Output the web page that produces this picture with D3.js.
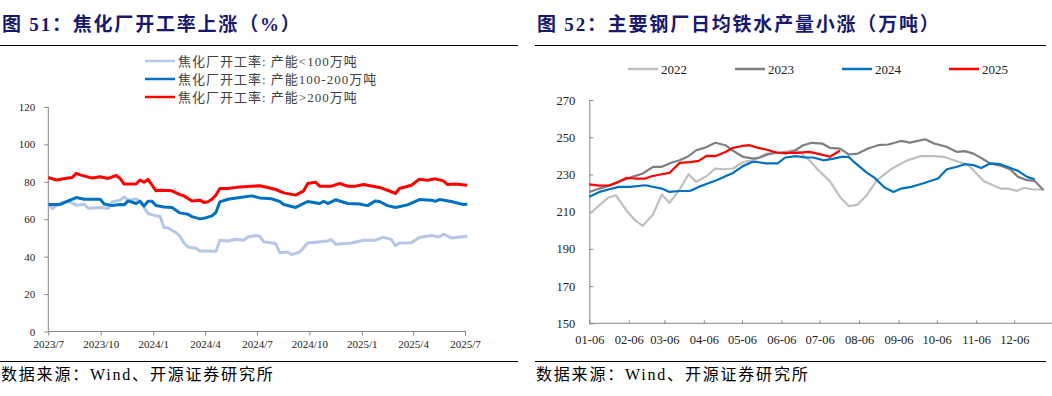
<!DOCTYPE html>
<html>
<head>
<meta charset="utf-8">
<script src="https://cdn.jsdelivr.net/npm/d3@7"></script>
<style>
  body { margin: 0; background: #fff; }
  svg { display: block; }
  .title { font-family: 'Liberation Serif', 'Noto Sans CJK SC', serif; font-weight: bold; font-size: 19px; fill: #18196e; letter-spacing: 1.8px; }
  .source { font-family: 'Liberation Serif', 'Noto Sans CJK SC', serif; font-size: 16px; fill: #000; letter-spacing: 1.8px; }
  .legend { font-family: 'Liberation Serif', 'Noto Sans CJK SC', serif; font-size: 13px; fill: #404040; }
  .axis text { font-family: 'Liberation Serif', serif; fill: #222; }
  .axis path, .axis line { stroke: #868686; }
</style>
</head>
<body>
<script>
// 图51 焦化厂开工率 (%), weekly
const cokeSeries = ['焦化厂开工率: 产能<100万吨', '焦化厂开工率: 产能100-200万吨', '焦化厂开工率: 产能>200万吨']
const cokeColors = ['#b4c7e7', '#0070c0', '#ff0000']
const cokeTicks = ['2023-07-01', '2023-10-01', '2024-01-01', '2024-04-01', '2024-07-01', '2024-10-01', '2025-01-01', '2025-04-01', '2025-07-01']

const cokeSmall = [
  ['2023-07-01', 68.8], ['2023-07-08', 65.7], ['2023-07-22', 68.4], ['2023-08-05', 69.6], ['2023-08-19', 67.5],
  ['2023-09-02', 68], ['2023-09-09', 65.9], ['2023-09-30', 66.3], ['2023-10-14', 65.7], ['2023-10-21', 69.3],
  ['2023-11-04', 70.2], ['2023-11-11', 72], ['2023-11-18', 70.2], ['2023-12-02', 70.9], ['2023-12-09', 69.6],
  ['2023-12-16', 66.3], ['2023-12-23', 63], ['2024-01-06', 61.8], ['2024-01-13', 61.6], ['2024-01-20', 55.4],
  ['2024-01-27', 55.4], ['2024-02-10', 52.9], ['2024-02-17', 50.9], ['2024-02-24', 47.3], ['2024-03-02', 45.2],
  ['2024-03-16', 44.5], ['2024-03-23', 43], ['2024-04-06', 43], ['2024-04-20', 42.9], ['2024-04-27', 48.8],
  ['2024-05-11', 48.4], ['2024-05-25', 49.3], ['2024-06-08', 48.8], ['2024-06-15', 50.5], ['2024-06-29', 51.3],
  ['2024-07-06', 50.9], ['2024-07-13', 47.9], ['2024-08-03', 47], ['2024-08-10', 42.1], ['2024-08-24', 42.5],
  ['2024-08-31', 41.1], ['2024-09-14', 42.5], ['2024-09-28', 47.3], ['2024-10-12', 47.7], ['2024-11-02', 48.4],
  ['2024-11-09', 49.1], ['2024-11-16', 46.6], ['2024-12-14', 47.3], ['2025-01-04', 48.8], ['2025-01-25', 48.8],
  ['2025-02-08', 50.4], ['2025-02-22', 49.1], ['2025-03-01', 45.9], ['2025-03-08', 47.3], ['2025-03-29', 47.5],
  ['2025-04-12', 50.2], ['2025-05-03', 51.3], ['2025-05-17', 50.5], ['2025-05-24', 52], ['2025-06-07', 50],
  ['2025-07-05', 50.9],
]
const cokeMid = [
  ['2023-07-01', 67.9], ['2023-07-22', 67.9], ['2023-08-05', 69.8], ['2023-08-19', 71.6], ['2023-09-02', 70.7],
  ['2023-09-30', 70.7], ['2023-10-07', 68.2], ['2023-10-21', 67.3], ['2023-11-04', 67.9], ['2023-11-11', 67.7],
  ['2023-11-18', 69.8], ['2023-12-02', 68.4], ['2023-12-09', 69.6], ['2023-12-16', 67], ['2023-12-23', 69.6],
  ['2023-12-30', 69.6], ['2024-01-06', 67.3], ['2024-01-20', 66.6], ['2024-02-03', 66.3], ['2024-02-17', 63.4],
  ['2024-03-02', 62.7], ['2024-03-09', 61.4], ['2024-03-23', 60.2], ['2024-03-30', 60.5], ['2024-04-13', 61.8],
  ['2024-04-20', 63.6], ['2024-04-27', 69.3], ['2024-05-11', 70.7], ['2024-06-01', 71.6], ['2024-06-22', 72.5],
  ['2024-07-06', 71.4], ['2024-07-27', 70.9], ['2024-08-10', 69.5], ['2024-08-17', 67.9], ['2024-09-07', 66.3],
  ['2024-09-28', 69.5], ['2024-10-19', 68.4], ['2024-10-26', 69.6], ['2024-11-02', 68.4], ['2024-11-16', 70.4],
  ['2024-12-07', 68.4], ['2024-12-28', 68.2], ['2025-01-11', 67.3], ['2025-01-25', 69.8], ['2025-02-01', 69.5],
  ['2025-02-15', 67.3], ['2025-03-01', 66.3], ['2025-03-22', 67.7], ['2025-04-12', 70.5], ['2025-05-03', 70.2],
  ['2025-05-10', 69.6], ['2025-05-17', 70.5], ['2025-06-07', 69.5], ['2025-06-28', 67.9], ['2025-07-05', 68],
]
const cokeLarge = [
  ['2023-07-01', 82.3], ['2023-07-15', 81], ['2023-08-05', 82], ['2023-08-12', 82.3], ['2023-08-19', 84.5],
  ['2023-08-26', 83.7], ['2023-09-16', 82], ['2023-09-30', 82.7], ['2023-10-14', 81.8], ['2023-10-28', 83.4],
  ['2023-11-04', 81.8], ['2023-11-11', 78.8], ['2023-12-02', 78.8], ['2023-12-09', 81], ['2023-12-16', 79.8],
  ['2023-12-23', 81.3], ['2024-01-06', 75.2], ['2024-01-13', 75.5], ['2024-02-03', 75.2], ['2024-02-17', 73.2],
  ['2024-02-24', 72.5], ['2024-03-09', 69.8], ['2024-03-23', 70.2], ['2024-03-30', 69], ['2024-04-06', 69.3],
  ['2024-04-13', 70.7], ['2024-04-20', 72.9], ['2024-04-27', 76.4], ['2024-05-11', 76.4], ['2024-06-01', 77.3],
  ['2024-06-22', 77.7], ['2024-07-06', 77.9], ['2024-07-20', 77], ['2024-08-03', 75.9], ['2024-08-17', 74.1],
  ['2024-09-07', 72.9], ['2024-09-21', 75.2], ['2024-09-28', 79.1], ['2024-10-12', 79.8], ['2024-10-19', 77.7],
  ['2024-11-09', 77.7], ['2024-11-23', 79.1], ['2024-12-07', 77.7], ['2024-12-21', 77.7], ['2025-01-04', 78.6],
  ['2025-02-01', 77], ['2025-02-15', 75.5], ['2025-03-01', 73.8], ['2025-03-08', 76.4], ['2025-03-29', 78.2],
  ['2025-04-12', 81.4], ['2025-04-26', 80.9], ['2025-05-10', 81.6], ['2025-05-24', 80.5], ['2025-05-31', 78.6],
  ['2025-06-14', 78.8], ['2025-07-05', 78.2],
]

// 图52 主要钢厂日均铁水产量 (万吨), by day of year
const ironYears = ['2022', '2023', '2024', '2025']
const ironColors = ['#bfbfbf', '#7f7f7f', '#0070c0', '#ff0000']
const ironTicks = ['01-06', '02-06', '03-06', '04-06', '05-06', '06-06', '07-06', '08-06', '09-06', '10-06', '11-06', '12-06']

const iron2022 = [
  ['01-06', 208.6], ['01-13', 212.9], ['01-21', 217.6], ['01-27', 218.8], ['02-04', 210.8], ['02-11', 205.4],
  ['02-17', 202.4], ['02-25', 208.4], ['03-04', 219.2], ['03-10', 214.7], ['03-18', 221.9], ['03-25', 230.1],
  ['03-31', 226], ['04-08', 229], ['04-15', 233.2], ['04-21', 232.8], ['04-29', 233.2], ['05-07', 236.7],
  ['05-15', 237.6], ['05-25', 241.2], ['06-04', 241.6], ['06-15', 243], ['06-20', 242.1], ['06-28', 237.6],
  ['07-05', 232.3], ['07-14', 226.4], ['07-22', 217.9], ['07-29', 212.9], ['08-05', 213.8], ['08-12', 218.8],
  ['08-20', 226.9], ['09-01', 233.2], ['09-12', 237.3], ['09-23', 239.8], ['10-03', 239.8], ['10-12', 239.4],
  ['10-22', 237.1], ['10-31', 235], ['11-05', 231.4], ['11-12', 226.4], ['11-18', 224.6], ['11-25', 222.4],
  ['12-01', 222.4], ['12-08', 221.2], ['12-14', 222.8], ['12-21', 221.9], ['12-29', 221.9],
]
const iron2023 = [
  ['01-06', 220.6], ['01-14', 222.4], ['01-22', 223.9], ['01-30', 226.4], ['02-09', 228.7], ['02-17', 230.5],
  ['02-25', 234.1], ['03-04', 234.1], ['03-12', 236.4], ['03-18', 237.6], ['03-25', 239.8], ['03-31', 243],
  ['04-07', 244.4], ['04-15', 247], ['04-23', 245.7], ['04-29', 242.7], ['05-07', 239.4], ['05-15', 238.5],
  ['05-20', 239.1], ['05-27', 240.9], ['06-02', 241.8], ['06-10', 241.2], ['06-17', 243], ['06-23', 245.7],
  ['06-30', 247], ['07-08', 246.6], ['07-14', 244.3], ['07-22', 243.9], ['07-29', 240.7], ['08-05', 241.2],
  ['08-13', 243.9], ['08-21', 245.7], ['08-29', 246.1], ['09-08', 248], ['09-15', 247.1], ['09-27', 248.9],
  ['10-04', 246.6], ['10-14', 244.8], ['10-22', 242.1], ['10-28', 242.5], ['11-04', 241.2], ['11-12', 238],
  ['11-17', 235.9], ['11-26', 234.6], ['12-03', 232.6], ['12-09', 228.7], ['12-16', 226.9], ['12-22', 226.5],
  ['12-29', 221.5],
]
const iron2024 = [
  ['01-06', 218], ['01-14', 220.6], ['01-21', 221.9], ['01-29', 223.3], ['02-07', 223.3], ['02-19', 224.2],
  ['03-04', 222.4], ['03-10', 220.6], ['03-18', 221.1], ['03-26', 221.1], ['04-02', 223.3], ['04-09', 225.1],
  ['04-16', 226.9], ['04-23', 229], ['04-29', 230.8], ['05-07', 234.6], ['05-14', 236.7], ['05-18', 236.7],
  ['05-25', 235.9], ['06-03', 235.9], ['06-09', 239.1], ['06-17', 239.8], ['06-25', 239.1], ['07-01', 239.1],
  ['07-09', 237.6], ['07-17', 238.5], ['07-23', 239.4], ['07-29', 239.4], ['08-02', 236.7], ['08-12', 231],
  ['08-18', 228.3], ['08-26', 223], ['09-02', 220.6], ['09-08', 222.4], ['09-16', 223.3], ['09-25', 225.1],
  ['10-07', 227.8], ['10-14', 232.8], ['10-22', 234.1], ['10-28', 235.5], ['11-04', 235], ['11-10', 233.5],
  ['11-17', 235.9], ['11-25', 235.5], ['12-03', 233.5], ['12-09', 231.9], ['12-16', 228.7], ['12-22', 227.4],
]
const iron2025 = [
  ['01-06', 224.7], ['01-14', 224], ['01-22', 224.2], ['01-29', 226], ['02-04', 228.1], ['02-11', 227.8],
  ['02-19', 227.8], ['02-24', 229], ['03-04', 230.1], ['03-10', 230.8], ['03-18', 236.2], ['03-26', 236.6],
  ['04-02', 237.3], ['04-08', 240], ['04-15', 239.8], ['04-23', 242.1], ['04-29', 244.3], ['05-06', 245.3],
  ['05-12', 245.7], ['05-18', 244.4], ['05-25', 243.4], ['06-02', 241.8], ['06-10', 241.6], ['06-18', 241.6],
  ['06-28', 242.1], ['07-06', 240.9], ['07-14', 239.5], ['07-22', 242.7],
]

const W = 1052
const H = 396
const parseDay = d3.timeParse('%Y-%m-%d')
const parseMd = md => parseDay('2001-' + md)

const svg = d3.select('body').append('svg').attr('width', W).attr('height', H)
svg.append('rect').attr('width', W).attr('height', H).attr('fill', '#fff')

// Titles, rules, sources
const panels = [
  { x: 2, rule: [0, 518], title: '图 51：焦化厂开工率上涨（%）' },
  { x: 537, rule: [535, 1046], title: '图 52：主要钢厂日均铁水产量小涨（万吨）' },
]
panels.forEach(p => {
  svg.append('text').attr('class', 'title').attr('x', p.x).attr('y', 31).text(p.title)
  svg.append('line').attr('x1', p.rule[0]).attr('x2', p.rule[1]).attr('y1', 45.5).attr('y2', 45.5)
    .attr('stroke', '#000').attr('stroke-width', 1.2)
  svg.append('line').attr('x1', p.rule[0]).attr('x2', p.rule[1]).attr('y1', 361.5).attr('y2', 361.5)
    .attr('stroke', '#000').attr('stroke-width', 1.2)
  svg.append('text').attr('class', 'source').attr('x', p.x - 1).attr('y', 380).text('数据来源：Wind、开源证券研究所')
})

// ---- Left chart ----
const xL = d3.scaleTime().domain([parseDay('2023-07-01'), parseDay('2025-07-01')]).range([48.3, 465])
const yL = d3.scaleLinear().domain([0, 120]).range([331.5, 107])

svg.append('g').attr('class', 'axis')
  .attr('transform', 'translate(48.3,0)')
  .call(d3.axisLeft(yL).tickValues(d3.range(0, 121, 20)).tickSize(4).tickPadding(9))
  .call(g => g.selectAll('text').style('font-size', '11px'))
  .call(g => g.select('.domain').attr('d', `M0,${yL(120)}V${yL(0)}`))

svg.append('g').attr('class', 'axis')
  .attr('transform', `translate(0,${yL(0)})`)
  .call(d3.axisBottom(xL).tickValues(cokeTicks.map(parseDay)).tickFormat(d3.timeFormat('%Y/%-m')).tickSize(4).tickPadding(5))
  .call(g => g.selectAll('text').style('font-size', '11px'))
  .call(g => g.select('.domain').attr('d', `M${xL.range()[0]},0H${xL.range()[1] + 1}`))

const lineL = d3.line().x(d => xL(parseDay(d[0]))).y(d => yL(d[1]))
;[cokeSmall, cokeMid, cokeLarge].forEach((s, i) => {
  svg.append('path').datum(s).attr('d', lineL)
    .attr('fill', 'none').attr('stroke', cokeColors[i]).attr('stroke-width', 3).attr('stroke-linejoin', 'round')
})

cokeSeries.forEach((name, i) => {
  const y = 61 + i * 18
  svg.append('line').attr('x1', 145).attr('x2', 175).attr('y1', y).attr('y2', y)
    .attr('stroke', cokeColors[i]).attr('stroke-width', 2.5)
  svg.append('text').attr('class', 'legend').attr('x', 178).attr('y', y).attr('dy', '0.35em')
    .style('letter-spacing', '1px').text(name)
})

// ---- Right chart ----
const xR = d3.scaleTime().domain([parseMd('01-06'), d3.timeDay.offset(parseMd('01-06'), 365)]).range([589.3, 589.3 + 365 * 1.2725])
const yR = d3.scaleLinear().domain([150, 270]).range([323.3, 100])

svg.append('g').attr('class', 'axis')
  .attr('transform', 'translate(589.3,0)')
  .call(d3.axisLeft(yR).tickValues(d3.range(150, 271, 20)).tickSizeInner(-4).tickSizeOuter(0).tickPadding(14))
  .call(g => g.selectAll('text').style('font-size', '12.5px'))

svg.append('g').attr('class', 'axis')
  .attr('transform', `translate(0,${yR(150)})`)
  .call(d3.axisBottom(xR).tickValues(ironTicks.map(parseMd)).tickFormat(d3.timeFormat('%m-%d')).tickSizeInner(-3).tickSizeOuter(0).tickPadding(12))
  .call(g => g.selectAll('text').style('font-size', '12.5px'))
  .call(g => g.select('.domain').attr('d', `M${xR.range()[0]},0H${W}`))

const lineR = d3.line().x(d => xR(parseMd(d[0]))).y(d => yR(d[1]))
;[iron2022, iron2023, iron2024, iron2025].forEach((s, i) => {
  svg.append('path').datum(s).attr('d', lineR)
    .attr('fill', 'none').attr('stroke', ironColors[i]).attr('stroke-width', 2.2).attr('stroke-linejoin', 'round')
})

ironYears.forEach((yr, i) => {
  const x = 628 + i * 107
  svg.append('line').attr('x1', x).attr('x2', x + 30).attr('y1', 69).attr('y2', 69)
    .attr('stroke', ironColors[i]).attr('stroke-width', 2.5)
  svg.append('text').attr('class', 'legend').attr('x', x + 33).attr('y', 69).attr('dy', '0.35em')
    .style('font-size', '13px').style('fill', '#222').text(yr)
})
</script>
</body>
</html>
